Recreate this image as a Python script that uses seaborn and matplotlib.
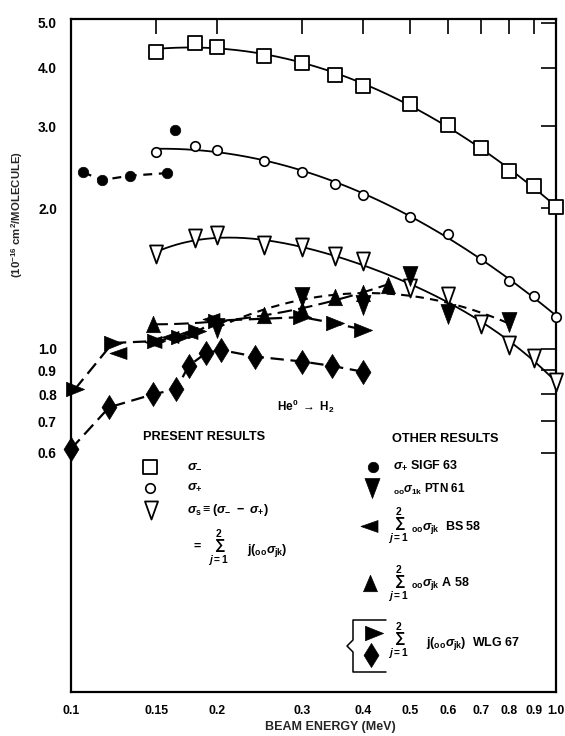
import numpy as np
import matplotlib
matplotlib.use("Agg")
import matplotlib.pyplot as plt
import matplotlib.path as mpath
from matplotlib.ticker import NullLocator
import seaborn as sns

# ---------------- data: beam energy (MeV), cross sections (1e-16 cm^2/molecule) -------------
energy_present = [0.15, 0.18, 0.20, 0.25, 0.30, 0.35, 0.40, 0.50, 0.60, 0.70, 0.80, 0.90, 1.00]
sigma_minus = [4.32, 4.52, 4.44, 4.25, 4.09, 3.87, 3.66, 3.35, 3.01, 2.70, 2.41, 2.23, 2.01]
sigma_plus = [2.64, 2.72, 2.67, 2.53, 2.39, 2.26, 2.14, 1.92, 1.76, 1.56, 1.40, 1.30, 1.17]
sigma_s = [1.60, 1.73, 1.75, 1.67, 1.65, 1.58, 1.54, 1.35, 1.30, 1.13, 1.02, 0.955, 0.851]

sigf_energy = [0.106, 0.116, 0.1325, 0.158, 0.164]
sigf_sigma = [2.39, 2.30, 2.35, 2.38, 2.94]

ptn_energy = [0.20, 0.30, 0.40, 0.50, 0.60, 0.80]
ptn_sigma = [1.11, 1.29, 1.24, 1.43, 1.19, 1.14]

bs_energy = [0.125, 0.148, 0.160, 0.175, 0.195]
bs_sigma = [0.98, 1.035, 1.06, 1.08, 1.16]

a_energy = [0.148, 0.25, 0.30, 0.35, 0.40, 0.45]
a_sigma = [1.13, 1.18, 1.21, 1.29, 1.32, 1.37]

wlg_tri_energy = [0.102, 0.122, 0.150, 0.168, 0.182, 0.200, 0.30, 0.35, 0.40]
wlg_tri_sigma = [0.82, 1.03, 1.04, 1.06, 1.09, 1.15, 1.17, 1.135, 1.10]

wlg_dia_energy = [0.100, 0.120, 0.148, 0.165, 0.175, 0.190, 0.204, 0.240, 0.300, 0.345, 0.400]
wlg_dia_sigma = [0.61, 0.75, 0.80, 0.82, 0.92, 0.98, 0.995, 0.963, 0.94, 0.92, 0.894]

x_ticks = [0.1, 0.15, 0.2, 0.3, 0.4, 0.5, 0.6, 0.7, 0.8, 0.9, 1.0]
x_tick_labels = ["0.1", "0.15", "0.2", "0.3", "0.4", "0.5", "0.6", "0.7", "0.8", "0.9", "1.0"]
y_ticks = [0.6, 0.7, 0.8, 0.9, 1.0, 2.0, 3.0, 4.0, 5.0]
y_tick_labels = ["0.6", "0.7", "0.8", "0.9", "1.0", "2.0", "3.0", "4.0", "5.0"]

# ---------------- style ----------------
sns.set_style("white")
plt.rcParams["font.family"] = ["Liberation Sans", "DejaVu Sans"]
plt.rcParams["font.weight"] = "bold"
plt.rcParams["mathtext.fontset"] = "custom"
plt.rcParams["mathtext.rm"] = "Liberation Sans:bold"
plt.rcParams["mathtext.bf"] = "Liberation Sans:bold"
plt.rcParams["mathtext.sf"] = "Liberation Sans:bold"
plt.rcParams["mathtext.it"] = "Liberation Sans:italic"

FIG_W, FIG_H = 565, 736
AX_L, AX_R, AX_T, AX_B = 70.7, 556.0, 19.0, 692.0


def fig_pt(px, py):
    return px / FIG_W, 1 - py / FIG_H


def ax_pt(px, py):
    return (px - AX_L) / (AX_R - AX_L), (AX_B - py) / (AX_B - AX_T)


def shape(verts):
    return mpath.Path(list(verts) + [verts[0]], closed=True)


TRI_DOWN_OPEN = shape([(-0.72, 1), (0.72, 1), (0, -1)])
TRI_DOWN = shape([(-0.75, 1), (0.75, 1), (0, -1)])
TRI_UP = shape([(-0.85, -1), (0.85, -1), (0, 1)])
TRI_LEFT = shape([(1, 0.7), (1, -0.7), (-1, 0)])
TRI_RIGHT = shape([(-1, 0.8), (-1, -0.8), (1, 0)])
DIAMOND = shape([(0, 1), (0.62, 0), (0, -1), (-0.62, 0)])

# marker name -> (marker, size, face, edge width)
STYLES = {
    "minus": ("s", 88, "white", 1.3),
    "plus": ("o", 47, "white", 1.2),
    "s": (TRI_DOWN_OPEN, 169, "white", 1.3),
    "sigf": ("o", 57, "black", 0.5),
    "ptn": (TRI_DOWN, 207, "black", 0.5),
    "bs": (TRI_LEFT, 150, "black", 0.5),
    "a": (TRI_UP, 140, "black", 0.5),
    "wlg_tri": (TRI_RIGHT, 169, "black", 0.5),
    "wlg_dia": (DIAMOND, 300, "black", 0.5),
}


def smooth(xs, ys, deg, lo=None, hi=None):
    coef = np.polyfit(np.log10(xs), np.log10(ys), deg)
    lo = min(xs) if lo is None else lo
    hi = max(xs) if hi is None else hi
    grid = np.linspace(np.log10(lo), np.log10(hi), 160)
    return 10 ** grid, 10 ** np.polyval(coef, grid)


fig = plt.figure(figsize=(FIG_W / 100, FIG_H / 100), dpi=100)
ax = fig.add_axes([AX_L / FIG_W, 1 - AX_B / FIG_H,
                   (AX_R - AX_L) / FIG_W, (AX_B - AX_T) / FIG_H])
ax.set_xscale("log")
ax.set_yscale("log")


def curve(xs, ys, ls="-", lw=1.3):
    sns.lineplot(x=xs, y=ys, ax=ax, color="black", lw=lw, linestyle=ls,
                 estimator=None, sort=False, zorder=2)


def points(xs, ys, key):
    m, s, fc, lw = STYLES[key]
    sns.scatterplot(x=xs, y=ys, ax=ax, marker=m, s=s, facecolor=fc,
                    edgecolor="black", linewidth=lw, zorder=4,
                    clip_on=False, legend=False)


# present results: smooth fits through the measured points
curve(*smooth(energy_present, sigma_minus, 3))
curve(*smooth(energy_present, sigma_plus, 3))
curve(*smooth(energy_present, sigma_s, 4))

# other results
curve(sigf_energy[:4], sigf_sigma[:4], ls=(0, (4, 3)), lw=1.6)
curve(*smooth(ptn_energy, ptn_sigma, 2), ls=(0, (4, 3)), lw=1.5)
curve(*smooth(a_energy, a_sigma, 2), ls=(0, (7, 3)), lw=1.5)
curve(wlg_tri_energy, wlg_tri_sigma, ls=(0, (6, 3)), lw=1.6)
curve(wlg_dia_energy, wlg_dia_sigma, ls=(0, (6, 3)), lw=1.6)

points(energy_present, sigma_minus, "minus")
points(energy_present, sigma_plus, "plus")
points(energy_present, sigma_s, "s")
points(sigf_energy, sigf_sigma, "sigf")
points(a_energy, a_sigma, "a")
points(bs_energy, bs_sigma, "bs")
points(wlg_tri_energy, wlg_tri_sigma, "wlg_tri")
points(wlg_dia_energy, wlg_dia_sigma, "wlg_dia")
points(ptn_energy, ptn_sigma, "ptn")

# ---------------- axes ----------------
ax.set_xlim(0.1, 1.0)
ax.set_ylim(0.1843, 5.088)
ax.set_xticks(x_ticks)
ax.set_xticklabels(x_tick_labels)
ax.set_yticks(y_ticks)
ax.set_yticklabels(y_tick_labels)
ax.xaxis.set_minor_locator(NullLocator())
ax.yaxis.set_minor_locator(NullLocator())
ax.tick_params(axis="both", which="major", direction="in", length=11,
               width=1.2, top=True, right=True, colors="black")
ax.tick_params(axis="x", labelsize=8.8, pad=9)
ax.tick_params(axis="y", labelsize=9.8, pad=10)
for lab in ax.get_xticklabels() + ax.get_yticklabels():
    lab.set_fontweight("bold")
for sp in ax.spines.values():
    sp.set_linewidth(1.6)
    sp.set_color("black")

ax.set_xlabel("BEAM ENERGY (MeV)", fontsize=9, fontweight="bold")
ax.xaxis.set_label_coords(*ax_pt(330, 721))
ax.set_ylabel(r"(10$^{-16}$ cm$^{2}$/MOLECULE)", fontsize=8.2, fontweight="bold")
ax.yaxis.set_label_coords(*ax_pt(25, 215))

# ---------------- annotations and key ----------------
def label(px, py, s, size=9.0, ha="left"):
    fig.text(*fig_pt(px, py), s, ha=ha, va="center", fontsize=size,
             fontweight="bold", color="black")


def key(px, py, name):
    m, s, fc, lw = STYLES[name]
    ax.scatter(*ax_pt(px, py), marker=m, s=s, facecolor=fc, edgecolor="black",
               linewidth=lw, transform=ax.transAxes, clip_on=False, zorder=5)


SUM = r"$\sum_{j=1}^{2}$"
OO_SIG = r"${}_{\mathbf{oo}}\sigma_{\mathbf{%s}}$"

label(277, 406, r"He$^{0}$ $\rightarrow$ H$_{2}$", size=8.5)

label(143, 437, "PRESENT RESULTS", size=9.2)
key(150, 467, "minus")
key(150, 488, "plus")
key(151, 510, "s")
label(187, 466, r"$\sigma_{-}$", size=9.5)
label(187, 487, r"$\sigma_{+}$", size=9.5)
label(187, 510, r"$\sigma_{\mathbf{s}} \equiv (\sigma_{-}\ -\ \sigma_{+})$", size=9)
label(194, 547, "=", size=9)
label(218, 548, SUM, size=10.5, ha="center")
label(247, 550, "j(" + OO_SIG % "jk" + ")", size=9)

label(392, 439, "OTHER RESULTS", size=9.2)
key(373, 467, "sigf")
key(372, 488, "ptn")
key(369, 526, "bs")
key(370, 583, "a")
key(374, 633, "wlg_tri")
key(371, 655, "wlg_dia")
label(393, 465, r"$\sigma_{+}$ SIGF 63", size=9)
label(393, 489, OO_SIG % "1k" + " PTN 61", size=8.5)
label(398, 526, SUM, size=10.5, ha="center")
label(411, 527, OO_SIG % "jk" + "  BS 58", size=9)
label(398, 584, SUM, size=10.5, ha="center")
label(411, 584, OO_SIG % "jk" + " A 58", size=9)
label(398, 641, SUM, size=10.5, ha="center")
label(426, 644, "j(" + OO_SIG % "jk" + ")  WLG 67", size=9)

# brace grouping the two WLG 67 symbols
brace_px = [(386, 620), (353, 620), (353, 640), (347, 646), (353, 652),
            (353, 672), (386, 672)]
bx, by = zip(*[ax_pt(px, py) for px, py in brace_px])
ax.plot(bx, by, color="black", lw=1.1, transform=ax.transAxes, clip_on=False)

fig.savefig("out.png", dpi=100)
